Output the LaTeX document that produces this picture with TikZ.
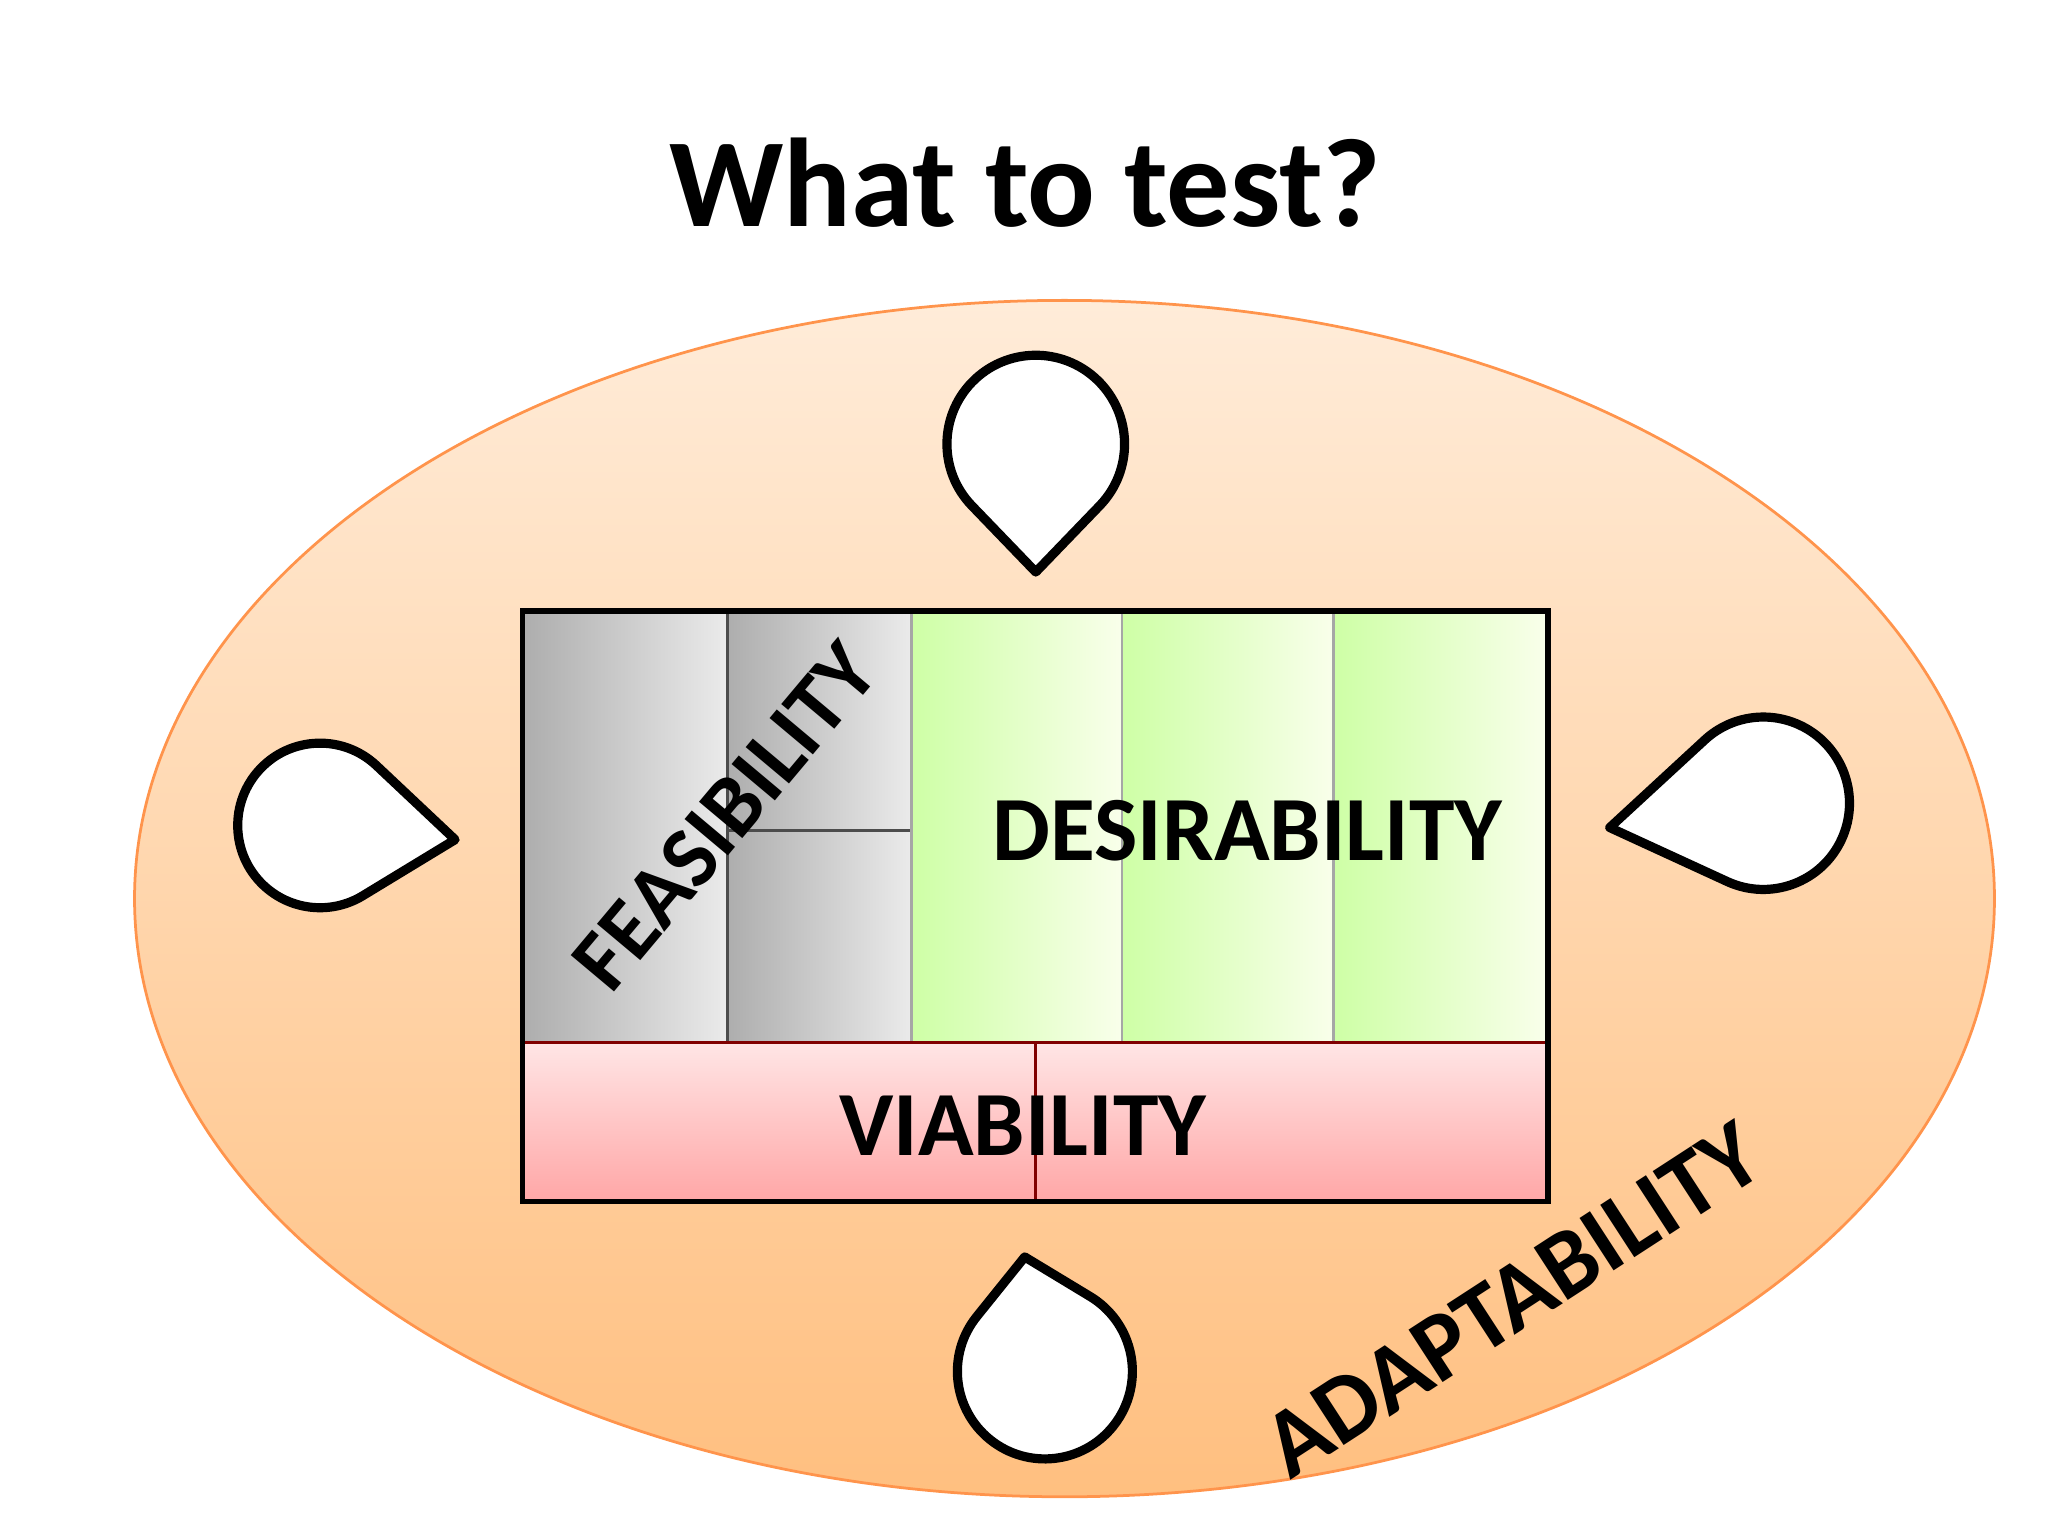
\documentclass[tikz,border=0pt]{standalone}
\usepackage{fontspec}
\setmainfont{Carlito}
\usetikzlibrary{calc}
\begin{document}
\begin{tikzpicture}[
  cell/.style={draw=black!70,line width=0.6pt},
  gray cell/.style={cell,left color=black!32,right color=black!8},
  green cell/.style={cell,draw=black!35,left color=green!55!yellow!35,right color=green!30!yellow!8},
  pink cell/.style={cell,draw=red!50!black,top color=red!10,bottom color=red!35},
  lbl/.style={font=\bfseries\fontsize{21}{24}\selectfont,inner sep=0pt},
  dropst/.style={draw=black,line width=2pt,fill=white,line join=round}]
\useasboundingbox (0,0) rectangle (15.68,11.76);
\newcommand{\mydrop}[5]{%
  \pgfmathsetmacro\aa{acos(#3/#5)}%
  \pgfmathsetmacro\sa{#4+\aa}%
  \pgfmathsetmacro\ea{#4-\aa+360}%
  \draw[dropst] ($(#1,#2)+(#4:#5)$) -- ($(#1,#2)+(\sa:#3)$) arc[start angle=\sa,end angle=\ea,radius=#3] -- cycle;}
\node[font=\bfseries\fontsize{27.5}{30}\selectfont] (title) at (7.85,10.36) {What to test?};
\path[draw=orange!80!red!70,line width=0.6pt,top color=orange!15,bottom color=orange!50] (8.15,4.88) ellipse[x radius=7.12,y radius=4.58];
\node[gray cell,minimum width=1.56cm,minimum height=3.29cm,anchor=north west,inner sep=0] (g1) at (4.00,7.08) {};
\node[gray cell,minimum width=1.41cm,minimum height=1.67cm,anchor=north west,inner sep=0] (g2) at (5.56,7.08) {};
\node[gray cell,minimum width=1.41cm,minimum height=1.62cm,anchor=north west,inner sep=0] (g3) at (5.56,5.41) {};
\node[green cell,minimum width=1.61cm,minimum height=3.29cm,anchor=north west,inner sep=0] (d1) at (6.97,7.08) {};
\node[green cell,minimum width=1.62cm,minimum height=3.29cm,anchor=north west,inner sep=0] (d2) at (8.58,7.08) {};
\node[green cell,minimum width=1.63cm,minimum height=3.29cm,anchor=north west,inner sep=0] (d3) at (10.20,7.08) {};
\node[pink cell,minimum width=3.92cm,minimum height=1.23cm,anchor=north west,inner sep=0] (v1) at (4.00,3.79) {};
\node[pink cell,minimum width=3.93cm,minimum height=1.23cm,anchor=north west,inner sep=0] (v2) at (7.92,3.79) {};
\draw[line width=1.2pt] (4.00,2.56) rectangle (11.85,7.08);
\node[lbl,rotate=50,font=\bfseries\fontsize{19}{22}\selectfont] (feas) at (5.55,5.51) {FEASIBILITY};
\node[lbl,font=\bfseries\fontsize{20}{22}\selectfont] (des) at (9.55,5.40) {DESIRABILITY};
\node[lbl,font=\bfseries\fontsize{20}{22}\selectfont] (via) at (7.83,3.14) {VIABILITY};
\node[lbl,rotate=33] (adapt) at (11.58,1.81) {ADAPTABILITY};
\mydrop{7.93}{8.36}{0.68}{-90}{0.98}
\mydrop{2.45}{5.44}{0.63}{-6}{1.04}
\mydrop{13.50}{5.61}{0.66}{189}{1.19}
\mydrop{8.00}{1.26}{0.67}{100}{0.89}
\end{tikzpicture}
\end{document}
